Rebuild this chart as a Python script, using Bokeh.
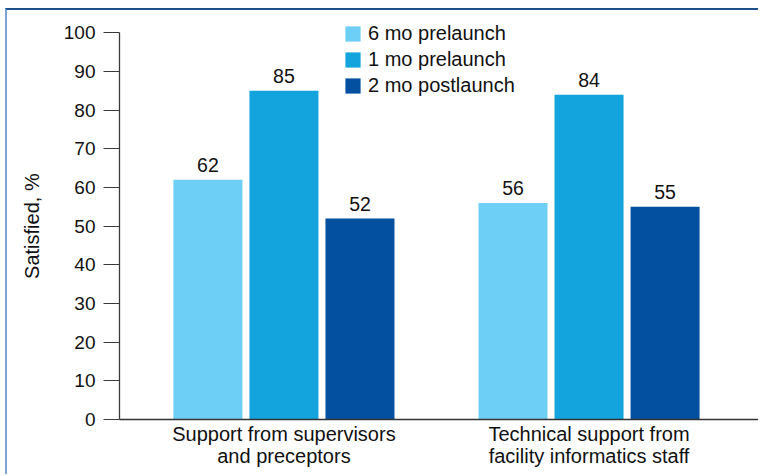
from bokeh.plotting import figure
from bokeh.models import (ColumnDataSource, Range1d, FixedTicker, Legend, LegendItem,
                          LabelSet)
from bokeh.core.properties import value
from bokeh.transform import dodge
from bokeh.embed import file_html
from bokeh.resources import INLINE

# ---- data ----
categories = ["Support from supervisors\nand preceptors",
              "Technical support from\nfacility informatics staff"]
series = ["6 mo prelaunch", "1 mo prelaunch", "2 mo postlaunch"]
values_6mo_prelaunch = [62, 56]
values_1mo_prelaunch = [85, 84]
values_2mo_postlaunch = [52, 55]
y_ticks = [0, 10, 20, 30, 40, 50, 60, 70, 80, 90, 100]

colors = ["#6dcff6", "#13a3dd", "#0350a0"]
FONT = "Liberation Sans"

p = figure(width=753, height=466, output_backend="svg", toolbar_location=None,
           x_range=Range1d(-0.039, 2.062), y_range=Range1d(0, 105.77),
           min_border_left=112, min_border_right=0, min_border_top=0,
           min_border_bottom=57, background_fill_color="white",
           border_fill_color="white",
           styles={"margin-left": "5px", "margin-top": "8px",
                   "border-top": "2px solid #1d4f8c",
                   "border-left": "2px solid #7aa6d8"})
p.outline_line_color = None
p.xgrid.visible = False
p.ygrid.visible = False

cat_x = [i + 0.5 for i in range(len(categories))]
all_vals = [values_6mo_prelaunch, values_1mo_prelaunch, values_2mo_postlaunch]
offsets = [-0.2492, 0.0, 0.2492]

items = []
for name, vals, col, off in zip(series, all_vals, colors, offsets):
    src = ColumnDataSource(dict(x=cat_x, top=vals, lab=[str(v) for v in vals]))
    r = p.vbar(x=dodge("x", off, range=p.x_range), top="top", bottom=0,
               width=0.2262, source=src, fill_color=col, line_color=None)
    items.append(LegendItem(label=name, renderers=[r]))
    p.add_layout(LabelSet(x=dodge("x", off, range=p.x_range), y="top", text="lab",
                          source=src, text_align="center", text_baseline="alphabetic",
                          y_offset=7.5, text_font=value(FONT), text_font_size="19.5px",
                          text_color="#111111"))

legend = Legend(items=items, location=(224, 322), orientation="vertical",
                glyph_width=19, glyph_height=19, label_height=19, spacing=3,
                label_standoff=6, padding=0, margin=0, border_line_color=None,
                background_fill_alpha=0, label_text_font=FONT,
                label_text_font_size="20px", label_text_color="#111111")
p.add_layout(legend)

# y axis
ya = p.yaxis[0]
ya.ticker = FixedTicker(ticks=y_ticks)
ya.bounds = (0, 100)
ya.axis_label = "Satisfied, %" + "\u00a0" * 4
ya.axis_label_text_font = FONT
ya.axis_label_text_font_size = "20px"
ya.axis_label_text_font_style = "normal"
ya.axis_label_text_color = "#111111"
ya.axis_label_standoff = 18
ya.major_label_text_font = FONT
ya.major_label_text_font_size = "19px"
ya.major_label_text_color = "#111111"
ya.major_tick_out = 16
ya.major_tick_in = 0
ya.minor_tick_out = 0
ya.minor_tick_in = 0
ya.major_label_standoff = 8
ya.axis_line_color = "#3a3a3a"
ya.major_tick_line_color = "#3a3a3a"
ya.axis_line_width = 1.3

# x axis
xa = p.xaxis[0]
xa.ticker = FixedTicker(ticks=cat_x)
xa.major_label_overrides = {c: lab for c, lab in zip(cat_x, categories)}
xa.major_label_text_font = FONT
xa.major_label_text_font_size = "20px"
xa.major_label_text_color = "#111111"
xa.major_label_text_line_height = 1.0
xa.major_tick_out = 0
xa.major_tick_in = 0
xa.minor_tick_out = 0
xa.minor_tick_in = 0
xa.major_label_standoff = 3
xa.axis_line_color = "#333333"
xa.axis_line_width = 1.3

open("out.html", "w").write(file_html(p, INLINE))
